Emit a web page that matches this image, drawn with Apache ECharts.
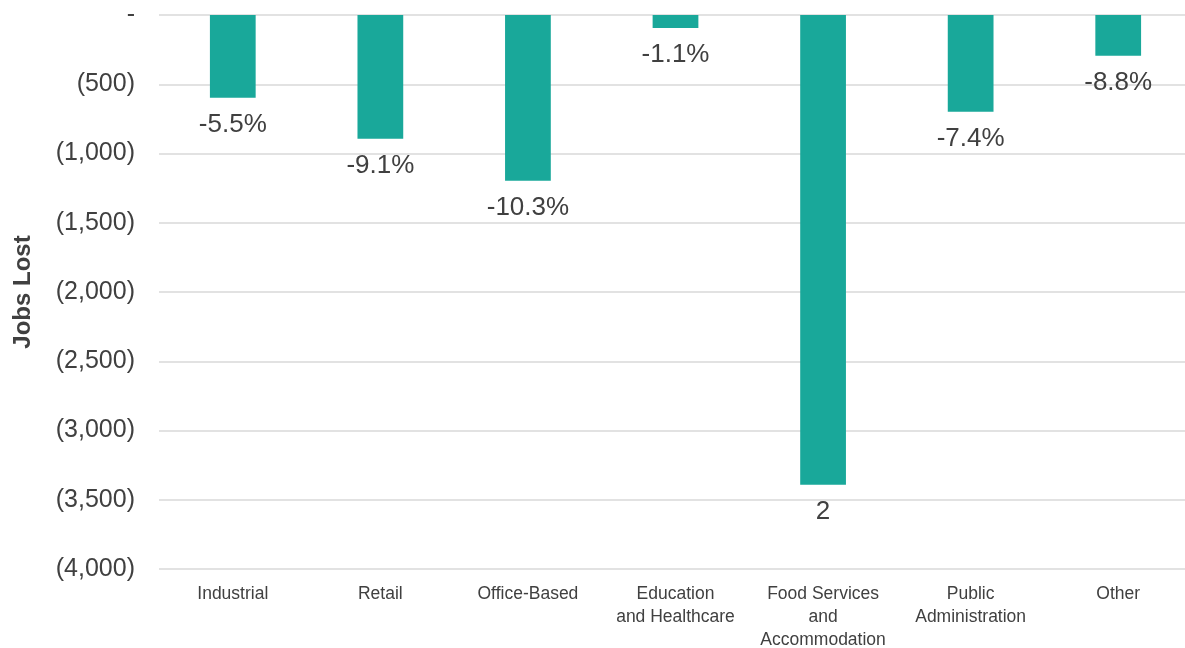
<!DOCTYPE html>
<html><head><meta charset="utf-8">
<script src="https://cdn.jsdelivr.net/npm/echarts@6/dist/echarts.min.js"></script>
<style>html,body{margin:0;padding:0;background:#fff}#c{width:1185px;height:648px}</style>
</head><body><div id="c"></div>
<script>
const categories = ["Industrial", "Retail", "Office-Based", "Education\nand Healthcare", "Food Services\nand\nAccommodation", "Public\nAdministration", "Other"];
const jobsLost = [-598, -894, -1196, -94, -3392, -699, -295];
const pctLabels = ["-5.5%", "-9.1%", "-10.3%", "-1.1%", "2", "-7.4%", "-8.8%"];
const yTicks = [0, -500, -1000, -1500, -2000, -2500, -3000, -3500, -4000];

const chart = echarts.init(document.getElementById('c'));
function fmt(v){
  if (v === 0) return '-';
  return '(' + Math.abs(v).toLocaleString('en-US') + ')';
}
chart.setOption({
  animation: false,
  textStyle: {fontFamily: 'Liberation Sans, Arial, sans-serif'},
  grid: {left: 159, top: 15, width: 1033, height: 554, containLabel: false, outerBoundsMode: 'none'},
  xAxis: {
    type: 'category', data: categories, position: 'bottom',
    axisLine: {show: false}, axisTick: {show: false},
    axisLabel: {color: '#404040', fontSize: 17.5, lineHeight: 23, margin: 14, interval: 0}
  },
  yAxis: {
    type: 'value', min: -4000, max: 0, interval: 500,
    name: 'Jobs Lost', nameLocation: 'middle', nameGap: 124, nameRotate: 90,
    nameTextStyle: {color: '#404040', fontSize: 24, fontWeight: 'bold'},
    axisLine: {show: false}, axisTick: {show: false},
    axisLabel: {color: '#404040', fontSize: 25, margin: 24, formatter: fmt},
    splitLine: {lineStyle: {color: '#d9d9d9', width: 1.5}}
  },
  series: [{
    type: 'bar', data: jobsLost, barWidth: '31%',
    itemStyle: {color: '#19a89a'},
    label: {show: true, position: 'bottom', distance: 14, color: '#404040', fontSize: 26,
      formatter: p => pctLabels[p.dataIndex]}
  }]
});
</script></body></html>
